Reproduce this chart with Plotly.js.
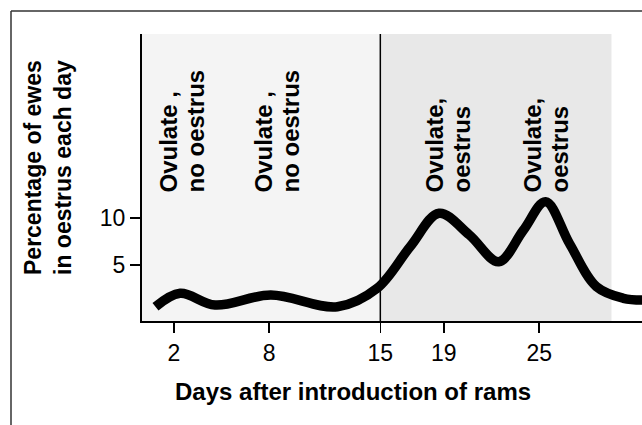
<!DOCTYPE html>
<html>
<head>
<meta charset="utf-8">
<script src="https://cdn.plot.ly/plotly-3.0.1.min.js"></script>
<style>
  html, body { margin: 0; padding: 0; background: #ffffff; }
  #chart { width: 642px; height: 425px; }
</style>
</head>
<body>
<div id="chart"></div>
<script>
// ---- data ----
var days = [0.85, 2.4, 4.6, 8.1, 12.3, 14.8, 16.9, 18.7, 20.6, 22.45, 24.0, 25.4, 26.9, 28.6, 30.3, 31.5];
var pct  = [0.56, 1.99, 0.74, 1.81, 0.56, 2.52, 7.0, 10.5, 8.2, 5.35, 8.7, 11.73, 7.3, 2.7, 1.46, 1.28];
var xTickVals = [2, 8, 15, 19, 25];
var xTickText = ["2", "8", "15", "19", "25"];
var yTickVals = [5, 10];
var yTickText = ["5", "10"];
var phaseStart = 15;      // introduction boundary (day)
var phaseEnd = 29.55;     // end of shaded oestrus phase (day)
var labelLines = [
  ["Ovulate ,", "no oestrus"],
  ["Ovulate ,", "no oestrus"],
  ["Ovulate,", "oestrus"],
  ["Ovulate,", "oestrus"]
];
var xTitle = "Days after introduction of rams";
var yTitleLines = ["Percentage of ewes", "in oestrus each day"];

// ---- layout helpers (pixel -> paper) ----
var W = 642, H = 425, L = 142, R = 0, T = 34, B = 104;
var PW = W - L - R, PH = H - T - B;
function px(x) { return (x - L) / PW; }
function py(y) { return (H - B - y) / PH; }

var FONT = "Liberation Sans, Arial, Helvetica, sans-serif";

var annotations = [];
var lineCentres = [[168, 195], [263, 290], [434, 461], [532, 559]];
labelLines.forEach(function (lines, i) {
  lines.forEach(function (t, j) {
    annotations.push({
      xref: "paper", yref: "paper",
      x: px(lineCentres[i][j]), y: py(195),
      xanchor: "center", yanchor: "bottom",
      text: "<b>" + t + "</b>", showarrow: false, textangle: -90,
      font: { family: FONT, size: 24, color: "#000" }
    });
  });
});
annotations.push({
  xref: "paper", yref: "paper", x: px(48), y: py(168),
  xanchor: "center", yanchor: "middle",
  text: "<b>" + yTitleLines.join("<br>") + "</b>", showarrow: false, textangle: -90,
  font: { family: FONT, size: 23, color: "#000" }
});
annotations.push({
  xref: "paper", yref: "paper", x: px(353), y: py(391),
  xanchor: "center", yanchor: "middle",
  text: "<b>" + xTitle + "</b>", showarrow: false,
  font: { family: FONT, size: 24, color: "#000" }
});

var shapes = [
  { type: "rect", layer: "below", xref: "x", yref: "paper", x0: 0, x1: phaseStart, y0: 0, y1: 1,
    fillcolor: "#f4f4f4", line: { width: 0 } },
  { type: "rect", layer: "below", xref: "x", yref: "paper", x0: phaseStart, x1: phaseEnd, y0: 0, y1: 1,
    fillcolor: "#e8e8e8", line: { width: 0 } },
  { type: "line", layer: "below", xref: "x", yref: "paper", x0: phaseStart, x1: phaseStart, y0: 0, y1: 1,
    line: { color: "#000", width: 1.5 } },
  { type: "line", xref: "paper", yref: "paper", x0: px(11), x1: px(11), y0: py(430), y1: py(11),
    line: { color: "#333", width: 1.5 } },
  { type: "line", xref: "paper", yref: "paper", x0: px(11), x1: px(650), y0: py(11), y1: py(11),
    line: { color: "#333", width: 1.5 } }
];

var trace = {
  x: days, y: pct, type: "scatter", mode: "lines",
  line: { color: "#000", width: 9.5, shape: "spline", smoothing: 1 },
  hoverinfo: "skip", cliponaxis: false
};

var layout = {
  width: W, height: H,
  margin: { l: L, r: R, t: T, b: B, pad: 0 },
  paper_bgcolor: "#ffffff", plot_bgcolor: "rgba(0,0,0,0)",
  showlegend: false,
  font: { family: FONT, color: "#000" },
  xaxis: {
    range: [0, 31.47], showgrid: false, zeroline: false,
    showline: true, linecolor: "#000", linewidth: 2,
    ticks: "outside", ticklen: 10, tickwidth: 1.5, tickcolor: "#000",
    tickmode: "array", tickvals: xTickVals, ticktext: xTickText,
    tickfont: { family: FONT, size: 23, color: "#000" }
  },
  yaxis: {
    range: [-0.957, 29.57], showgrid: false, zeroline: false,
    showline: true, linecolor: "#000", linewidth: 2,
    ticks: "outside", ticklen: 10, tickwidth: 1.5, tickcolor: "#000",
    tickmode: "array", tickvals: yTickVals, ticktext: yTickText,
    tickfont: { family: FONT, size: 23, color: "#000" }
  },
  shapes: shapes,
  annotations: annotations
};

Plotly.newPlot("chart", [trace], layout, { staticPlot: true, displayModeBar: false });
</script>
</body>
</html>
